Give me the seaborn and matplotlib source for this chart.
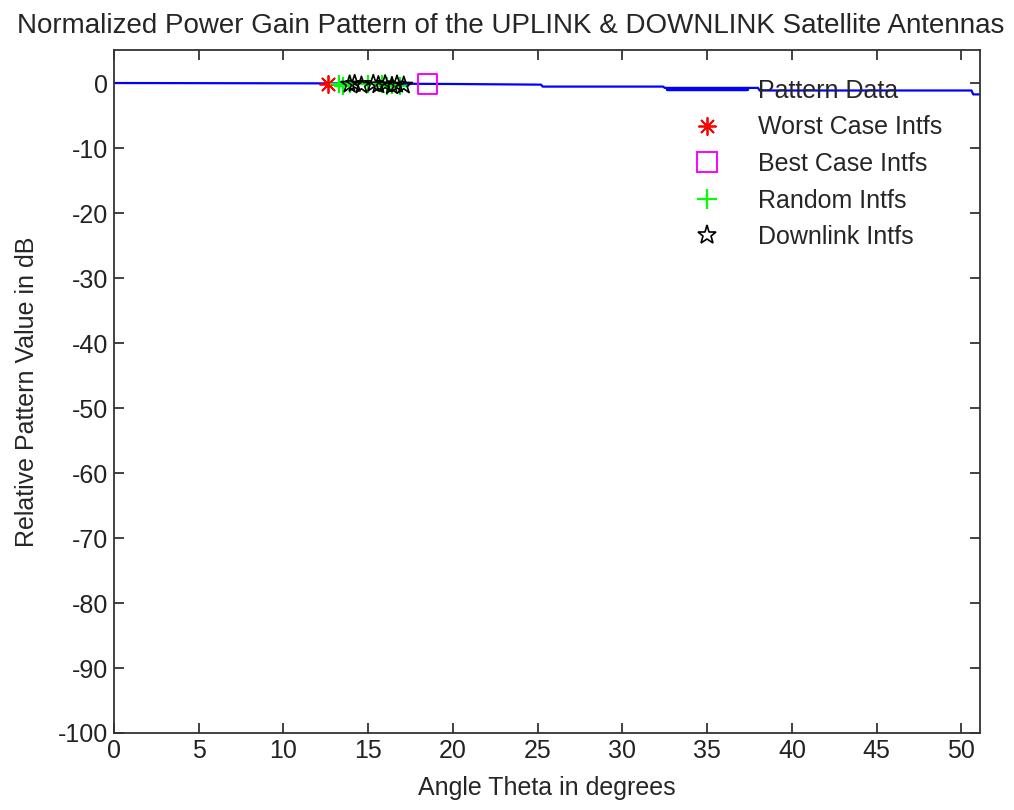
import matplotlib
matplotlib.use("Agg")
import matplotlib.pyplot as plt
from matplotlib.lines import Line2D
import pandas as pd
import seaborn as sns

# Antenna pattern (angle in degrees, relative gain in dB)
pattern_theta = [0.0, 12.0, 20.0, 25.2, 25.3, 32.4, 32.5, 38.0, 38.1, 50.6, 50.7, 51.1]
pattern_gain = [0.0, -0.05, -0.15, -0.25, -0.55, -0.55, -0.75, -0.75, -1.15, -1.15, -1.75, -1.75]

# Interferer positions on the pattern
worst_theta = [12.6]
worst_gain = [-0.1]
best_theta = [18.5]
best_gain = [-0.2]
random_theta = [13.3, 13.5, 13.9, 15.0, 15.8, 16.1, 16.4, 16.9]
random_gain = [-0.1, -0.4, -0.2, -0.1, -0.2, -0.5, -0.3, -0.45]
downlink_theta = [13.9, 14.2, 14.6, 15.3, 15.6, 16.0, 16.4, 16.7, 17.1]
downlink_gain = [-0.2, -0.1, -0.35, -0.1, -0.3, -0.15, -0.45, -0.2, -0.35]

legend_labels = ["Pattern Data", "Worst Case Intfs", "Best Case Intfs",
                 "Random Intfs", "Downlink Intfs"]

sns.set_theme(style="ticks")
plt.rcParams["font.family"] = ["Liberation Sans", "DejaVu Sans"]
plt.rcParams["axes.unicode_minus"] = False
FS = 18

fig = plt.figure(figsize=(10.14, 8.10), dpi=100)
ax = fig.add_axes([114 / 1014, 1 - 733 / 810, 866 / 1014, 683 / 810])

pattern = pd.DataFrame({"theta": pattern_theta, "gain": pattern_gain})
sns.lineplot(data=pattern, x="theta", y="gain", ax=ax, color="#0000ff",
             lw=1.6, sort=False, estimator=None)

asterisk = (8, 2, 0)
sns.scatterplot(x=worst_theta, y=worst_gain, ax=ax, marker=asterisk, s=150,
                color="red", linewidth=1.3, zorder=3)
sns.scatterplot(x=random_theta, y=random_gain, ax=ax, marker="+", s=170,
                color="#00ff00", linewidth=1.6, zorder=3)
sns.scatterplot(x=downlink_theta, y=downlink_gain, ax=ax, marker="*", s=170,
                facecolors="none", edgecolor="black", linewidth=1.2, zorder=4)
sns.scatterplot(x=best_theta, y=best_gain, ax=ax, marker="s", s=200,
                facecolors="none", edgecolor="#ff00ff", linewidth=1.4, zorder=3)

ax.set_xlim(0, 51.1)
ax.set_ylim(-100, 5.08)
ax.set_xticks(range(0, 51, 5))
ax.set_yticks(range(-100, 1, 10))
ax.tick_params(direction="in", top=True, right=True, length=7, width=1.2,
               labelsize=FS, colors="#222222", pad=4)
for sp in ax.spines.values():
    sp.set_visible(True)
    sp.set_color("#333333")
    sp.set_linewidth(1.3)

ax.set_xlabel("Angle Theta in degrees", fontsize=FS, labelpad=10)
ax.set_ylabel("Relative Pattern Value in dB", fontsize=FS, labelpad=14)
ax.set_title("Normalized Power Gain Pattern of the UPLINK & DOWNLINK Satellite Antennas",
             fontsize=20, pad=12, x=(511 - 114) / 866)

handles = [
    Line2D([], [], color="#0000ff", lw=2.5),
    Line2D([], [], ls="none", marker=asterisk, color="red", ms=13, mew=1.3),
    Line2D([], [], ls="none", marker="s", mfc="none", mec="#ff00ff", ms=14, mew=1.4),
    Line2D([], [], ls="none", marker="+", color="#00ff00", ms=14, mew=1.6),
    Line2D([], [], ls="none", marker="*", mfc="none", mec="black", ms=14, mew=1.2),
]
ax.legend(handles, legend_labels, loc="upper left", frameon=False, fontsize=FS,
          bbox_to_anchor=(667 / 1014, 1 - 79 / 810), bbox_transform=fig.transFigure,
          borderaxespad=0, borderpad=0, handlelength=3.2, handletextpad=0.42,
          labelspacing=0.5)

fig.savefig("out.png", dpi=100, facecolor="white")
